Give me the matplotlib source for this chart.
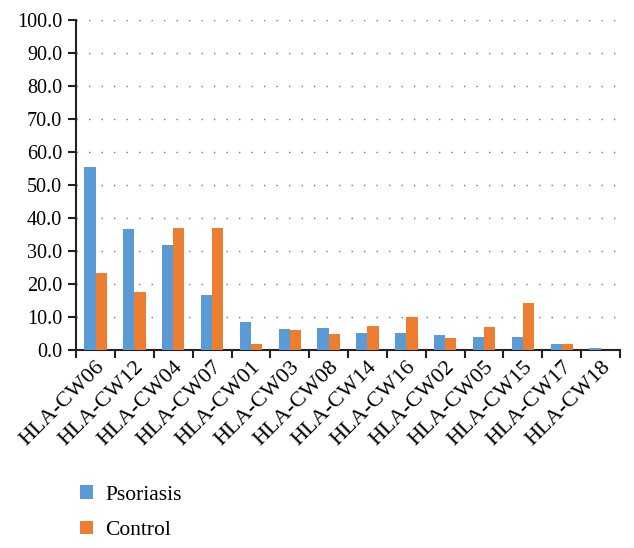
import matplotlib.pyplot as plt
import numpy as np

plt.rcParams['font.family'] = ['Liberation Serif', 'DejaVu Serif']

categories = ['HLA-CW06', 'HLA-CW12', 'HLA-CW04', 'HLA-CW07', 'HLA-CW01',
              'HLA-CW03', 'HLA-CW08', 'HLA-CW14', 'HLA-CW16', 'HLA-CW02',
              'HLA-CW05', 'HLA-CW15', 'HLA-CW17', 'HLA-CW18']
psoriasis = [55.6, 36.7, 31.8, 16.7, 8.4, 6.5, 6.7, 5.1, 5.1, 4.5, 4.0, 4.0, 2.0, 0.8]
control = [23.3, 17.7, 37.0, 37.0, 1.9, 6.2, 4.9, 7.4, 10.0, 3.8, 7.0, 14.3, 1.8, 0.0]
y_ticks = np.arange(0, 101, 10)

blue = '#5B9BD5'
orange = '#ED7D31'

fig = plt.figure(figsize=(6.34, 5.48), dpi=100)
ax = fig.add_axes([0.12, 0.361, 0.858, 0.6025])

x = np.arange(len(categories))
w = 0.29
b1 = ax.bar(x - w / 2, psoriasis, w, color=blue, label='Psoriasis', zorder=3)
b2 = ax.bar(x + w / 2, control, w, color=orange, label='Control', zorder=3)

ax.set_xlim(-0.5, len(categories) - 0.5)
ax.set_ylim(0, 100)
ax.set_yticks(y_ticks)
ax.set_yticklabels(['%.1f' % v for v in y_ticks], fontsize=14.5)

# ticks between categories, labels at centres
ax.set_xticks(np.arange(len(categories) + 1) - 0.5)
ax.set_xticklabels([])
ax.set_xticks(x, minor=True)
ax.set_xticklabels(categories, minor=True, rotation=45, ha='right',
                   rotation_mode='anchor', fontsize=16)
ax.tick_params(axis='x', which='minor', length=0, pad=5)
ax.tick_params(axis='x', which='major', length=6, width=1.5, color='#222222')
ax.tick_params(axis='y', length=6, width=1.5, color='#222222', pad=4)

ax.yaxis.grid(True, color='#777777', linewidth=1.0, linestyle=(0, (1, 8)), zorder=0)
for s in ['top', 'right']:
    ax.spines[s].set_visible(False)
for s in ['left', 'bottom']:
    ax.spines[s].set_linewidth(1.5)
    ax.spines[s].set_color('#222222')

fig.legend(handles=[b1, b2], loc='upper left', bbox_to_anchor=(0.095, 0.15),
           frameon=False, fontsize=15.5, handlelength=0.6, handleheight=0.6,
           handletextpad=0.6, labelspacing=0.75)

fig.savefig('out.png')
